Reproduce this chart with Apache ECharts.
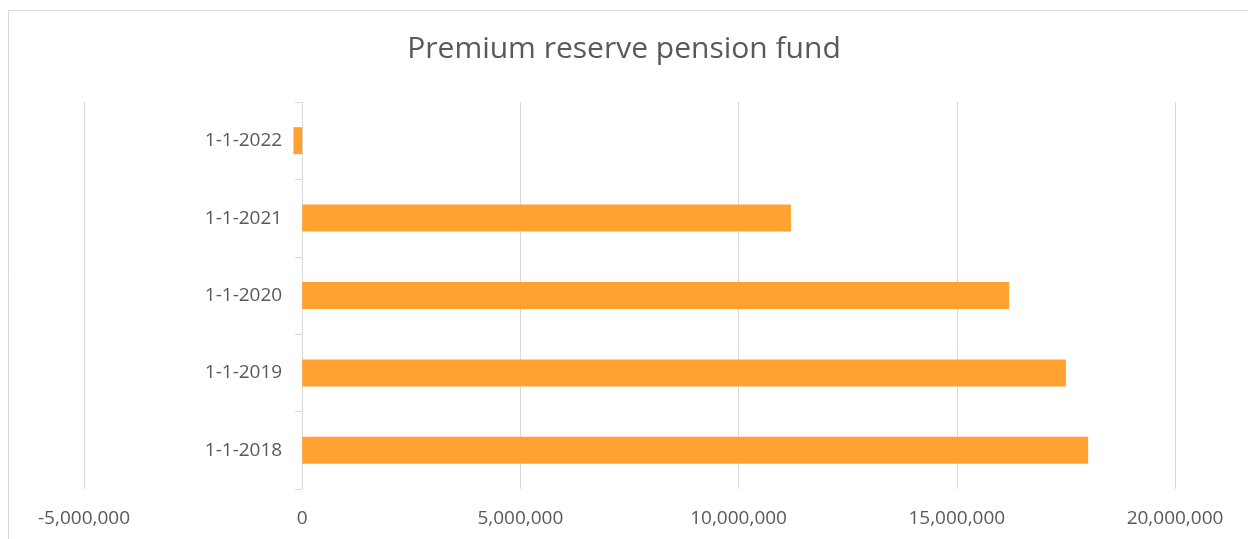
<!DOCTYPE html>
<html>
<head>
<meta charset="utf-8">
<script src="https://cdn.jsdelivr.net/npm/echarts@6/dist/echarts.min.js"></script>
<style>
  html, body { margin: 0; padding: 0; background: #fff; }
  #chart-root { width: 1248px; height: 539px; }
</style>
</head>
<body>
<div id="chart-root"></div>
<script>
// data
var categories = ["1-1-2018", "1-1-2019", "1-1-2020", "1-1-2021", "1-1-2022"];
var reserveValues = [18010000, 17500000, 16200000, 11200000, -200000];
var axisMin = -5000000;
var axisMax = 20000000;
var axisStep = 5000000;

var gridLeft = 84, gridRight = 73;
// category axis sits on the zero line of the value axis
var plotWidth = 1248 - gridLeft - gridRight;
var zeroShift = plotWidth * (0 - axisMin) / (axisMax - axisMin);

var chart = echarts.init(document.getElementById("chart-root"));

var option = {
  animation: false,
  textStyle: { fontFamily: "Open Sans", color: "#595959" },
  graphic: [
    {
      type: "rect",
      shape: { x: 8.5, y: 10.5, width: 1400, height: 700 },
      style: { fill: "none", stroke: "#d9d9d9", lineWidth: 1 },
      silent: true
    }
  ],
  title: {
    text: "Premium reserve pension fund",
    left: "center",
    top: 29,
    textStyle: {
      fontFamily: "Open Sans",
      fontSize: 30,
      fontWeight: "normal",
      color: "#595959"
    }
  },
  grid: {
    left: gridLeft,
    right: gridRight,
    top: 102,
    bottom: 50,
    containLabel: false,
    outerBoundsMode: "none"
  },
  xAxis: {
    type: "value",
    min: axisMin,
    max: axisMax,
    interval: axisStep,
    axisLine: { show: false },
    axisTick: { show: false },
    axisLabel: {
      fontSize: 19,
      color: "#595959",
      margin: 20,
      formatter: function (v) {
        return v.toLocaleString("en-US");
      }
    },
    splitLine: { lineStyle: { color: "#d9d9d9", width: 1 } }
  },
  yAxis: {
    type: "category",
    data: categories,
    offset: -zeroShift,
    axisLine: { onZero: false, lineStyle: { color: "#d9d9d9", width: 1 } },
    axisTick: { show: true, length: 7, lineStyle: { color: "#d9d9d9" } },
    axisLabel: { fontSize: 19, color: "#595959", margin: 20 }
  },
  series: [
    {
      name: "Premium reserve",
      type: "bar",
      data: reserveValues,
      barWidth: 27,
      itemStyle: { color: "#ffa232" }
    }
  ]
};

chart.setOption(option);
window.onresize = chart.resize;
</script>
</body>
</html>
